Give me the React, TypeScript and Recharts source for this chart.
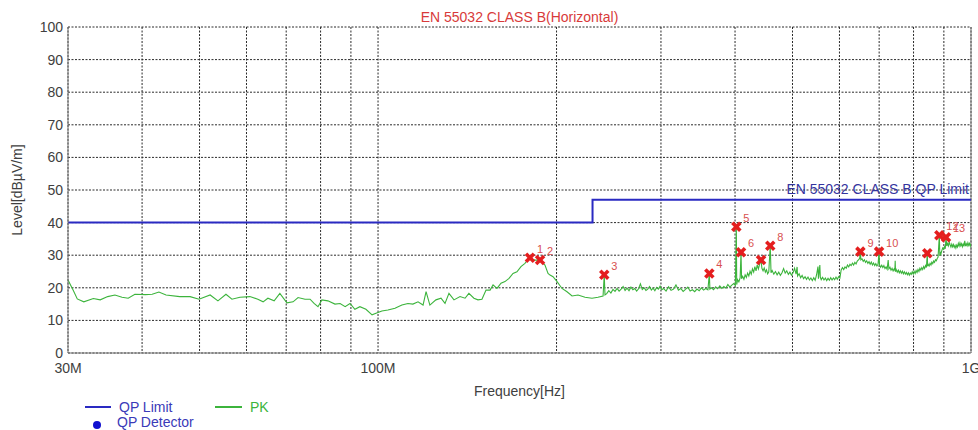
import { ComposedChart, Line, Scatter, XAxis, YAxis, CartesianGrid, ReferenceLine } from 'recharts'

// ---- data ----

const xTicks = [30, 40, 50, 60, 70, 80, 90, 100, 200, 300, 400, 500, 600, 700, 800, 900, 1000]
const xTickLabels: Record<number, string> = { 30: '30M', 100: '100M', 1000: '1G' }
const yTicks = [0, 10, 20, 30, 40, 50, 60, 70, 80, 90, 100]

// EN 55032 class B QP limit (MHz, dBµV/m)
const limitFreq = [30, 230, 230, 1000]
const limitLevel = [40, 40, 47, 47]

// final measured points
const markerFreq = [180.4, 187.6, 240.7, 362, 402, 409.4, 442.5, 458.6, 650.8, 699.8, 843.9, 884.3, 907.5]
const markerLevel = [29.2, 28.5, 24.0, 24.4, 38.7, 30.9, 28.5, 32.9, 31.1, 31.1, 30.6, 36.1, 35.5]
const markerLabel = ['1', '2', '3', '4', '5', '6', '', '8', '9', '10', '', '12', '13']

// peak trace [MHz, dBµV/m]
const pkTrace: [number, number][] = [
  [30, 22.4], [30.6, 19.3], [31.1, 16.6], [31.9, 15.7], [33.1, 16.7], [34.0, 16.3], [35.0, 17.3], [36.0, 17.8],
  [37.0, 17.1], [37.9, 16.8], [38.9, 18.0], [40.5, 17.9], [41.6, 18.0], [42.7, 18.7], [43.9, 17.8], [46.3, 17.3],
  [48.2, 17.3], [49.9, 16.5], [52.1, 17.8], [53.7, 16.0], [55.4, 18.0], [56.7, 16.5], [58.5, 17.1], [60.8, 17.3],
  [62.7, 16.5], [64.0, 15.7], [65.2, 16.8], [66.8, 16.0], [68.3, 18.3], [70.2, 15.4], [71.9, 15.7], [73.3, 17.0],
  [75.3, 16.5], [76.8, 16.5], [78.0, 15.2], [79.2, 14.2], [80.4, 16.3], [82.3, 16.0], [84.6, 15.0], [86.3, 15.2],
  [88.0, 14.2], [89.7, 15.2], [91.4, 13.4], [93.2, 14.2], [95.4, 13.4], [97.7, 11.7], [99.2, 12.2], [101.5, 12.9],
  [103.9, 13.2], [106.8, 13.7], [109.7, 14.7], [112.3, 15.2], [114.5, 15.0], [116.8, 15.7], [119.1, 14.7], [120.5, 18.8],
  [122.3, 14.7], [125.2, 16.3], [127.7, 16.8], [129.7, 15.2], [131.7, 18.3], [134.3, 16.3], [137.5, 17.3], [140.2, 16.8],
  [142.3, 18.3], [145.1, 16.8], [147.4, 16.3], [149.7, 16.5], [152.1, 19.3], [154.5, 19.3], [156.3, 20.9], [158.7, 19.8],
  [161.2, 21.4], [163.7, 21.9], [166.3, 22.9], [168.9, 24.4], [171.5, 24.9], [174.2, 26.5], [176.9, 27.5], [179.7, 29.0],
  [184.0, 28.5], [187.6, 28.5], [189.8, 27.5], [191.2, 27.0], [193.5, 24.4], [195.0, 23.9], [197.3, 23.4], [200.4, 21.9],
  [204.3, 19.8], [208.3, 18.8], [212.4, 17.5], [217.4, 17.8], [223.4, 17.1], [229.5, 16.8], [234.9, 17.1], [239.6, 17.5],
  [240.7, 24.0], [241.4, 17.8], [243, 18.2], [245, 19.1], [247, 18.4], [249, 19.5], [251, 18.9], [253, 19.8],
  [255, 19.0], [257, 19.6], [259, 20.4], [261, 19.2], [263, 19.9], [265, 19.1], [267, 20.2], [269, 19.4],
  [271, 19.8], [273, 19.0], [275, 19.7], [277, 21.2], [279, 19.5], [281, 20.0], [283, 19.2], [285, 19.6],
  [287, 20.4], [289, 19.3], [291, 19.9], [293, 19.1], [295, 20.1], [297, 19.6], [299, 20.5], [301, 19.4],
  [303, 19.8], [306, 19.0], [309, 20.3], [312, 19.2], [315, 19.6], [318, 20.9], [321, 19.3], [324, 19.8],
  [327, 18.9], [330, 19.5], [333, 20.2], [336, 19.0], [339, 19.4], [342, 18.8], [345, 19.6], [348, 19.1],
  [351, 20.0], [354, 19.3], [357, 19.8], [360, 19.4], [362, 24.4], [362.8, 19.6], [365, 20.0], [368, 19.4],
  [371, 20.3], [374, 19.7], [377, 20.6], [380, 19.8], [383, 20.4], [386, 19.9], [389, 21.0], [392, 20.2],
  [395, 20.8], [398, 21.3], [400.5, 20.7], [402, 38.7], [402.6, 21.0], [404, 22.5], [406, 21.8], [408, 23.1],
  [409.4, 30.9], [410.3, 22.8], [412, 23.5], [414, 22.6], [416, 24.0], [418, 23.2], [420, 24.5], [422, 23.6],
  [424, 25.1], [426, 24.2], [428, 25.8], [430, 24.8], [432, 26.5], [434, 25.2], [436, 27.0], [438, 25.8],
  [440, 27.2], [442.5, 28.5], [444, 26.0], [446, 25.2], [448, 26.1], [450, 24.8], [452, 25.5], [454, 24.3],
  [456, 24.9], [458.6, 32.9], [460, 24.6], [462, 25.3], [465, 24.2], [468, 25.0], [471, 24.0], [474, 24.8],
  [477, 23.8], [480, 24.6], [483, 25.9], [486, 24.5], [489, 25.2], [492, 24.1], [495, 24.8], [498, 23.9],
  [501, 24.6], [504, 26.0], [507, 24.2], [509, 26.4], [510, 23.6], [513, 24.3], [516, 23.1], [519, 23.8],
  [522, 22.8], [525, 23.4], [528, 22.6], [531, 23.3], [534, 22.4], [537, 23.0], [540, 22.2], [543, 23.1],
  [546, 22.3], [549, 24.0], [552, 26.5], [553, 22.8], [556, 27.0], [557, 23.3], [559, 22.5], [562, 23.2],
  [565, 22.4], [568, 23.0], [571, 22.2], [574, 22.9], [577, 22.3], [580, 23.1], [583, 22.4], [586, 23.0],
  [589, 22.5], [592, 23.3], [595, 22.6], [598, 23.4], [601, 23.0], [604, 25.5], [607, 26.2], [610, 25.6],
  [613, 26.4], [616, 26.0], [619, 27.0], [622, 26.4], [625, 27.2], [628, 26.8], [631, 27.6], [634, 27.0],
  [637, 27.8], [640, 27.3], [643, 28.2], [646, 28.6], [649, 29.0], [650.8, 31.1], [652, 28.6], [655, 28.9],
  [658, 28.1], [661, 28.6], [664, 27.8], [667, 28.3], [670, 27.5], [673, 28.0], [676, 27.2], [679, 27.9],
  [682, 27.0], [685, 27.6], [688, 26.8], [691, 27.4], [694, 26.7], [697, 27.2], [699.8, 31.1], [701, 27.0],
  [704, 26.3], [707, 26.9], [710, 26.2], [713, 26.8], [716, 25.9], [719, 26.4], [722, 25.7], [725, 28.5],
  [727, 25.8], [730, 26.3], [733, 25.4], [736, 26.0], [739, 25.2], [742, 25.8], [744, 25.4], [745, 28.3],
  [746, 25.0], [748, 25.6], [751, 24.8], [754, 25.4], [757, 24.6], [760, 25.2], [763, 24.5], [766, 25.1],
  [769, 24.3], [772, 24.9], [775, 24.2], [778, 24.7], [781, 24.0], [784, 24.6], [787, 23.9], [790, 24.5],
  [793, 24.1], [796, 24.9], [799, 24.2], [802, 25.0], [805, 24.4], [808, 25.3], [811, 24.7], [814, 25.6],
  [817, 25.0], [820, 26.0], [823, 25.4], [826, 26.2], [829, 25.6], [832, 26.5], [835, 25.9], [838, 26.8],
  [841, 26.2], [843.9, 30.6], [845, 26.6], [847, 27.2], [850, 26.7], [853, 27.5], [856, 27.0], [859, 27.9],
  [862, 27.4], [865, 28.2], [868, 27.8], [871, 28.6], [874, 28.3], [877, 29.0], [880, 29.4], [884.3, 36.1],
  [886, 29.8], [888, 31.0], [890, 30.5], [893, 31.5], [896, 32.2], [899, 31.8], [902, 32.6], [905, 32.0],
  [907.5, 35.5], [910, 32.8], [913, 33.6], [916, 32.9], [919, 34.0], [922, 33.2], [925, 32.5], [928, 33.4],
  [931, 32.6], [934, 33.3], [937, 32.4], [940, 33.0], [943, 32.2], [946, 33.1], [949, 32.5], [952, 33.6],
  [955, 32.8], [958, 33.8], [961, 32.9], [964, 33.5], [967, 32.6], [970, 33.4], [973, 32.7], [976, 34.4],
  [979, 32.8], [982, 33.5], [985, 32.9], [988, 33.8], [991, 33.0], [994, 33.6], [997, 32.8], [1000, 33.6],
]

const FONT = '"Liberation Sans", Arial, sans-serif'
const LIMIT_BLUE = '#2a2ac2'
const PK_GREEN = '#3cb43c'
const MARK_RED = '#e41e1e'

function MarkerShape(props: any) {
  const { cx, cy, payload } = props
  if (cx == null || cy == null) return null
  const s = 4
  return (
    <g>
      <line x1={cx - s} y1={cy - s} x2={cx + s} y2={cy + s} stroke={MARK_RED} strokeWidth={3.6} />
      <line x1={cx - s} y1={cy + s} x2={cx + s} y2={cy - s} stroke={MARK_RED} strokeWidth={3.6} />
      {payload.label ? (
        <text x={cx + 7} y={cy - 5} fill="#d85050" fontSize={11} fontFamily={FONT}>
          {payload.label}
        </text>
      ) : null}
    </g>
  )
}

export default function App() {
  const pkData = pkTrace.map(([f, level]) => ({ f, level }))
  const limitData = limitFreq.map((f, i) => ({ f, level: limitLevel[i] }))
  const markerData = markerFreq.map((f, i) => ({ f, level: markerLevel[i], label: markerLabel[i] }))

  return (
    <div style={{ position: 'absolute', left: 0, top: 0, width: 978, height: 430, background: '#fff', fontFamily: FONT, overflow: 'hidden' }}>
      <ComposedChart width={978} height={430} margin={{ top: 27, right: 7, bottom: 0, left: 0 }}>
        <CartesianGrid stroke="#2a2a2a" strokeDasharray="2 1.5" />
        <XAxis
          dataKey="f"
          type="number"
          scale="log"
          domain={[30, 1000]}
          allowDataOverflow
          ticks={xTicks}
          interval={0}
          height={77}
          tickLine={false}
          tickSize={3}
          tickMargin={7}
          stroke="#777"
          tick={{ fill: '#404040', fontSize: 14, fontFamily: FONT }}
          tickFormatter={(v: number) => xTickLabels[v] ?? ''}
        />
        <YAxis
          type="number"
          domain={[0, 100]}
          ticks={yTicks}
          interval={0}
          width={68}
          tickLine={false}
          tickSize={3}
          tickMargin={2}
          stroke="#777"
          tick={{ fill: '#404040', fontSize: 14, fontFamily: FONT }}
        />
        <ReferenceLine x={1000} stroke="#777" />
        <Line
          data={limitData}
          dataKey="level"
          type="linear"
          stroke={LIMIT_BLUE}
          strokeWidth={2}
          dot={false}
          isAnimationActive={false}
        />
        <Line
          data={pkData}
          dataKey="level"
          type="linear"
          stroke={PK_GREEN}
          strokeWidth={1.1}
          dot={false}
          isAnimationActive={false}
        />
        <Scatter data={markerData} dataKey="level" shape={MarkerShape} isAnimationActive={false} />
      </ComposedChart>

      <div style={{ position: 'absolute', left: 68, width: 903, top: 8, textAlign: 'center', fontSize: 14, color: '#d83a3a', lineHeight: '18px' }}>
        EN 55032 CLASS B(Horizontal)
      </div>
      <div style={{ position: 'absolute', right: 9, top: 180, fontSize: 14, color: '#34349e', lineHeight: '18px' }}>
        EN 55032 CLASS B QP Limit
      </div>
      <div style={{ position: 'absolute', left: 68, width: 903, top: 382, textAlign: 'center', fontSize: 14, color: '#404040', lineHeight: '18px' }}>
        Frequency[Hz]
      </div>
      <div
        style={{
          position: 'absolute', left: 17, top: 190, fontSize: 14, color: '#404040', lineHeight: '18px',
          whiteSpace: 'nowrap', transform: 'translate(-50%, -50%) rotate(-90deg)',
        }}
      >
        Level[dBµV/m]
      </div>

      {/* legend */}
      <div style={{ position: 'absolute', left: 85, top: 406, width: 26, height: 2, background: LIMIT_BLUE }} />
      <div style={{ position: 'absolute', left: 119, top: 399, fontSize: 14, color: '#3a3ab8', lineHeight: '16px' }}>QP Limit</div>
      <div style={{ position: 'absolute', left: 215, top: 406, width: 27, height: 2, background: PK_GREEN }} />
      <div style={{ position: 'absolute', left: 250, top: 399, fontSize: 14, color: PK_GREEN, lineHeight: '16px' }}>PK</div>
      <div style={{ position: 'absolute', left: 93, top: 421, width: 8, height: 8, borderRadius: 4, background: '#1010d0' }} />
      <div style={{ position: 'absolute', left: 117, top: 415, fontSize: 14, color: '#3a3ab8', lineHeight: '15px' }}>QP Detector</div>
    </div>
  )
}
